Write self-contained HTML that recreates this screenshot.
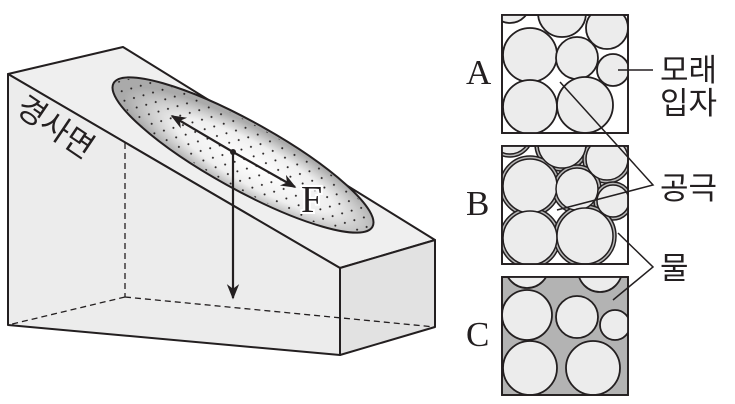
<!DOCTYPE html>
<html><head><meta charset="utf-8"><style>
html,body{margin:0;padding:0;background:#fff;}
svg{display:block;}
text{font-family:"Liberation Sans","Noto Sans CJK KR",sans-serif;fill:#231f20;}
.s{font-family:"Liberation Serif",serif;}
</style></head><body>
<svg width="735" height="404" viewBox="0 0 735 404" xmlns="http://www.w3.org/2000/svg">
<defs>
<radialGradient id="eg" cx="0.55" cy="0.55" r="0.5">
<stop offset="0" stop-color="#ffffff"/><stop offset="0.6" stop-color="#efefef"/><stop offset="1" stop-color="#aaaaaa"/>
</radialGradient>
<pattern id="dots" width="14" height="14" patternUnits="userSpaceOnUse">
<circle cx="3" cy="3" r="1" fill="#231f20"/><circle cx="10" cy="10" r="1" fill="#231f20"/>
</pattern>
<clipPath id="ca"><rect x="502" y="15" width="126" height="118"/></clipPath>
<clipPath id="cb"><rect x="502" y="146" width="126" height="118"/></clipPath>
<clipPath id="cc"><rect x="502" y="277" width="126" height="118"/></clipPath>
<marker id="ah" viewBox="0 0 10 10" refX="9" refY="5" markerWidth="7" markerHeight="7" orient="auto-start-reverse"><path d="M0,1 L10,5 L0,9 L3,5z" fill="#231f20"/></marker>
</defs>
<g stroke="#231f20" stroke-width="2" stroke-linejoin="round">
<polygon points="8,74 123,47 435,240 340,268" fill="#efefef"/>
<polygon points="8,74 340,268 340,355 8,325" fill="#ececec"/>
<polygon points="340,268 435,240 435,327 340,355" fill="#e2e2e2"/>
</g>
<g stroke="#231f20" stroke-width="1.3" stroke-dasharray="6,4" fill="none">
<line x1="125" y1="143" x2="125" y2="297"/><line x1="125" y1="297" x2="8" y2="325"/><line x1="125" y1="297" x2="435" y2="327"/>
</g>
<g transform="translate(243,155) rotate(29)">
<ellipse rx="148" ry="34" fill="url(#eg)" stroke="#231f20" stroke-width="2"/>
<ellipse rx="146" ry="32" fill="url(#dots)"/>
</g>
<g stroke="#231f20" stroke-width="2.2" fill="none">
<line x1="233" y1="152" x2="172" y2="116" marker-end="url(#ah)"/>
<line x1="233" y1="152" x2="295" y2="187" marker-end="url(#ah)"/>
<line x1="233" y1="152" x2="233" y2="298" marker-end="url(#ah)"/>
</g>
<circle cx="233" cy="152" r="3" fill="#231f20"/>
<text x="301" y="212" class="s" font-size="38" stroke="#fff" stroke-width="4" paint-order="stroke">F</text>
<text transform="translate(14,112) rotate(34)" font-size="31">경사면</text>

<g stroke="#231f20" stroke-width="1.8">
<rect x="502" y="15" width="126" height="118" fill="#fff"/>
<g clip-path="url(#ca)" fill="#ececec">
<circle cx="510" cy="3" r="20"/><circle cx="562" cy="13" r="24"/><circle cx="607" cy="28" r="21"/>
<circle cx="530" cy="55" r="27"/><circle cx="577" cy="58" r="21"/><circle cx="613" cy="70" r="16"/>
<circle cx="530" cy="107" r="27"/><circle cx="585" cy="105" r="28"/>
</g>
<rect x="502" y="15" width="126" height="118" fill="none"/>
<rect x="502" y="146" width="126" height="118" fill="#fff"/>
<g clip-path="url(#cb)" fill="#ececec" stroke-width="1.5">
<g fill="#b5b5b5"><circle cx="510" cy="134" r="23"/><circle cx="562" cy="144" r="27"/><circle cx="607" cy="159" r="24"/>
<circle cx="530" cy="186" r="30"/><circle cx="577" cy="189" r="24"/><circle cx="613" cy="201" r="19"/>
<circle cx="530" cy="238" r="30"/><circle cx="585" cy="236" r="31"/></g>
<circle cx="510" cy="134" r="20"/><circle cx="562" cy="144" r="24"/><circle cx="607" cy="159" r="21"/>
<circle cx="530" cy="186" r="27"/><circle cx="577" cy="189" r="21"/><circle cx="613" cy="201" r="16"/>
<circle cx="530" cy="238" r="27"/><circle cx="585" cy="236" r="28"/>
</g>
<rect x="502" y="146" width="126" height="118" fill="none"/>
<rect x="502" y="277" width="126" height="118" fill="#b3b3b3"/>
<g clip-path="url(#cc)" fill="#ececec">
<circle cx="527" cy="266" r="22"/><circle cx="600" cy="270" r="22"/>
<circle cx="527" cy="315" r="25"/><circle cx="577" cy="317" r="21"/><circle cx="615" cy="325" r="15"/>
<circle cx="530" cy="368" r="27"/><circle cx="593" cy="368" r="27"/>
</g>
<rect x="502" y="277" width="126" height="118" fill="none"/>
</g>
<g stroke="#231f20" stroke-width="1.5" fill="none">
<line x1="618" y1="70" x2="653" y2="70"/>
<polyline points="560,82 653,185 557,210"/>
<polyline points="618,233 653,267 613,300"/>
</g>
<g font-size="35">
<text x="466" y="84" class="s">A</text><text x="466" y="215" class="s">B</text><text x="466" y="346" class="s">C</text>
</g>
<g font-size="31">
<text x="660" y="81">모래</text><text x="660" y="114">입자</text>
<text x="660" y="199">공극</text><text x="660" y="279">물</text>
</g>
</svg>
</body></html>
